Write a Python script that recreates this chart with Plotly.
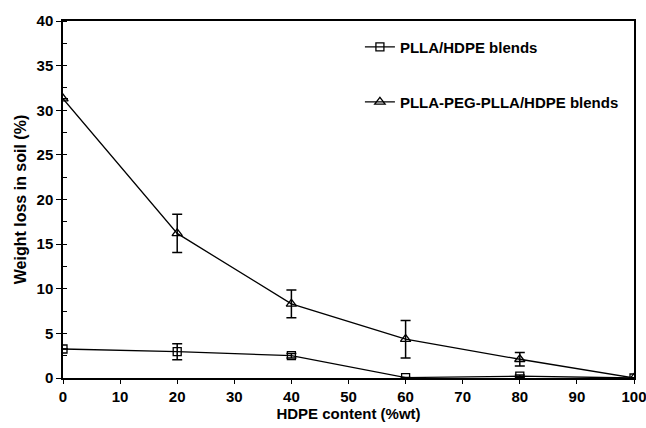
import plotly.graph_objects as go

hdpe = [0, 20, 40, 60, 80, 100]
plla_hdpe = [3.25, 2.95, 2.5, 0.05, 0.2, 0.0]
plla_hdpe_err = [0.0, 0.9, 0.25, 0.0, 0.15, 0.0]
peg_hdpe = [31.3, 16.2, 8.3, 4.35, 2.1, 0.0]
peg_hdpe_err = [0.0, 2.15, 1.55, 2.1, 0.75, 0.0]

names = ["PLLA/HDPE blends", "PLLA-PEG-PLLA/HDPE blends"]
font = "Arial, Liberation Sans, sans-serif"

fig = go.Figure()
fig.add_trace(go.Scatter(
    x=hdpe, y=plla_hdpe, name=names[0], mode="lines+markers",
    line=dict(color="black", width=1.3),
    marker=dict(symbol="square-open", size=8, color="black", line=dict(width=1.3)),
    error_y=dict(type="data", array=plla_hdpe_err, visible=True, color="black", thickness=1.5, width=5),
    legend="legend", showlegend=True,
))
fig.add_trace(go.Scatter(
    x=hdpe, y=peg_hdpe, name=names[1], mode="lines+markers",
    line=dict(color="black", width=1.3),
    marker=dict(symbol="triangle-up-open", size=9, color="black", line=dict(width=1.3)),
    error_y=dict(type="data", array=peg_hdpe_err, visible=True, color="black", thickness=1.5, width=5),
    legend="legend2", showlegend=True,
))

legend_common = dict(bgcolor="rgba(0,0,0,0)", font=dict(family=font, size=15, color="black", weight="bold"),
                     xanchor="left", yanchor="middle", itemwidth=30)
fig.update_layout(
    width=646, height=428,
    showlegend=True,
    margin=dict(l=63, r=12, t=21, b=50),
    paper_bgcolor="white", plot_bgcolor="white",
    font=dict(family=font, size=15, color="black"),
    legend=dict(x=0.52, y=0.927, **legend_common),
    legend2=dict(x=0.52, y=0.773, **legend_common),
    xaxis=dict(
        range=[0, 100], tickmode="array", tickvals=list(range(0, 101, 10)),
        ticks="outside", ticklen=4, tickwidth=1.2, tickcolor="black",
        ticklabeloverflow="allow", automargin=False,
        showline=True, linecolor="black", linewidth=1.5, mirror=True,
        showgrid=False, zeroline=False,
        tickfont=dict(family=font, size=15, color="black", weight="bold"),
        title=dict(text="HDPE content (%wt)" + "\u00a0" * 10,
                   font=dict(family=font, size=15, color="black", weight="bold"), standoff=4),
    ),
    yaxis=dict(
        range=[0, 40], tickmode="array", tickvals=list(range(0, 41, 5)),
        ticks="outside", ticklen=5, tickwidth=1.2, tickcolor="black",
        minor=dict(ticks="inside", ticklen=4, tickcolor="black", dtick=2.5, tick0=0),
        ticklabeloverflow="allow", automargin=False,
        showline=True, linecolor="black", linewidth=1.5, mirror=True,
        showgrid=False, zeroline=False,
        tickfont=dict(family=font, size=15, color="black", weight="bold"),
        title=dict(text="Weight loss in soil (%)", font=dict(family=font, size=16, color="black", weight="bold"), standoff=6),
    ),
)
fig.write_html("out.html")
